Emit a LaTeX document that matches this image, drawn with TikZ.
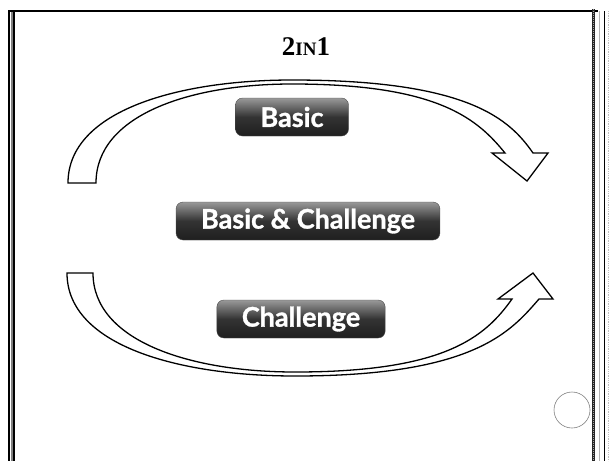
\documentclass[tikz,border=0pt]{standalone}
\usepackage{fontspec}
\setmainfont{Liberation Serif}
\newfontfamily\btnfont{Lato}[BoldFeatures={FakeBold=1.2}]
\usetikzlibrary{positioning}

\tikzset{
  btn/.style={rounded corners=7pt, draw=black!70, top color=black!40, bottom color=black!88,
    middle color=black!80, text=white, font=\btnfont\bfseries\fontsize{27}{27}\selectfont,
    inner xsep=25pt, inner ysep=0pt, minimum height=38pt},
  bendarrow/.style={draw=black, line width=1.3pt, fill=white, line join=miter},
}

\begin{document}
\begin{tikzpicture}[x=1pt,y=-1pt]
    \useasboundingbox (0,0) rectangle (610,461);
    % frame
    \draw[line width=2.3pt] (8,11) -- (598,11);
    \draw[line width=2pt] (9,10) -- (9,461);
    \draw[gray, line width=2pt] (11.5,12) -- (11.5,461);
    \draw[line width=1.6pt] (14,12) -- (14,461);
    \draw[black!85, line width=3pt] (593,9) -- (593,461);
    \draw[gray!70, line width=1pt, densely dotted] (593,9) -- (593,461);
    \draw[gray!60, line width=0.8pt] (599,11) -- (599,461);
    \draw[line width=0.8pt] (604,11) -- (604,461);
    \draw[gray!50, line width=0.8pt, densely dotted] (608,11) -- (608,461);

    \node (title) at (306,47) {\fontsize{27}{27}\selectfont\bfseries 2{\fontsize{19}{19}\selectfont IN}1};

    % upper arrow
    \draw[bendarrow] (68,183) .. controls (68,110) and (180,80) .. (292,80)
        .. controls (470,80) and (510,120) .. (533,153) -- (548,153) -- (527,181) -- (492,153) -- (505,153)
        .. controls (478,120) and (440,84) .. (292,84)
        .. controls (190,84) and (96,115) .. (96,183) -- cycle;
    % lower arrow
    \draw[bendarrow] (67,273) .. controls (67,346) and (180,376) .. (295,376)
        .. controls (475,376) and (511,331) .. (539,299) -- (553,299) -- (533,273) -- (498,299) -- (512,299)
        .. controls (485,337) and (445,372) .. (295,372)
        .. controls (190,372) and (93,341) .. (93,273) -- cycle;

    \node[btn] (basic) at (292,117) {Basic};
    \node[btn] (both) at (308,221) {Basic \& Challenge};
    \node[btn] (chal) at (301,319) {Challenge};

    \draw[gray, line width=0.6pt] (572,410) circle[radius=18];
\end{tikzpicture}
\end{document}
